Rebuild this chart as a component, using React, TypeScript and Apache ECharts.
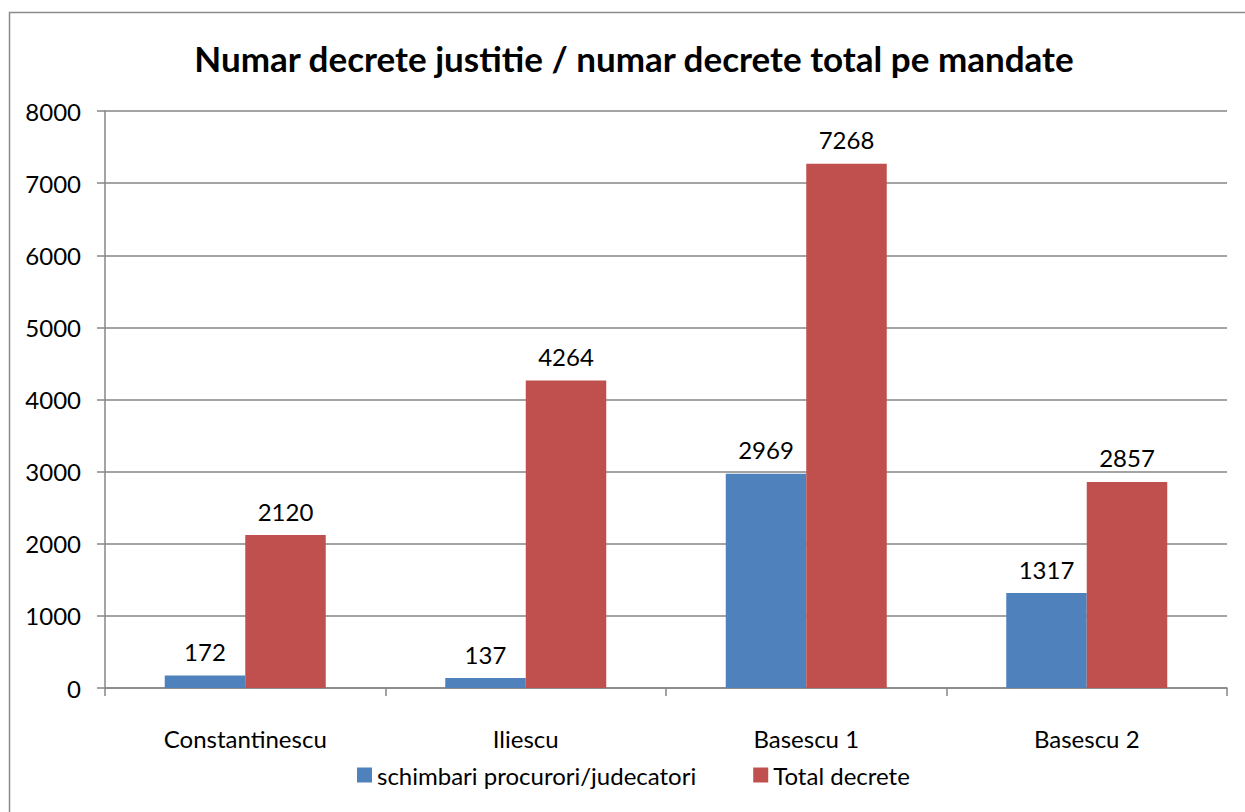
import React, { useEffect, useRef } from "react";
import * as echarts from "echarts";

const categories = ["Constantinescu", "Iliescu", "Basescu 1", "Basescu 2"];
const schimbari = [172, 137, 2969, 1317];
const totalDecrete = [2120, 4264, 7268, 2857];
const seriesNames = ["schimbari procurori/judecatori", "Total decrete"];
const titleText = "Numar decrete justitie / numar decrete total pe mandate";

const FONT = "Lato, 'Open Sans', sans-serif";
const FS = 24;

export default function App() {
  const ref = useRef<HTMLDivElement>(null);
  useEffect(() => {
    if (!ref.current) return;
    const chart = echarts.init(ref.current, undefined, { renderer: "svg" });
    chart.setOption({
      animation: false,
      backgroundColor: "#ffffff",
      textStyle: { fontFamily: FONT },
      graphic: [
        {
          type: "rect",
          shape: { x: 9.5, y: 12.5, width: 1300, height: 900 },
          style: { fill: "none", stroke: "#8a8a8a", lineWidth: 1.5 },
          silent: true,
          z: -10,
        },
        {
          type: "text",
          x: 634,
          y: 58,
          style: {
            text: titleText,
            font: `bold 35px ${FONT}`,
            fill: "#000",
            align: "center",
            verticalAlign: "middle",
          },
        },
      ],
      legend: {
        bottom: 20,
        left: 352,
        itemWidth: 15,
        itemHeight: 15,
        itemGap: 57,
        icon: "rect",
        textStyle: { fontSize: FS, color: "#000", fontFamily: FONT },
        data: seriesNames,
      },
      grid: { left: 105, top: 111, width: 1122, height: 577, containLabel: false },
      xAxis: {
        type: "category",
        data: categories,
        axisLine: { lineStyle: { color: "#868686", width: 1.5 } },
        axisTick: { show: true, length: 8, lineStyle: { color: "#868686", width: 1.5 } },
        axisLabel: { fontSize: FS, color: "#000", margin: 38, fontFamily: FONT },
      },
      yAxis: {
        type: "value",
        min: 0,
        max: 8000,
        interval: 1000,
        axisLine: { show: true, lineStyle: { color: "#868686", width: 1.5 } },
        axisTick: { show: true, length: 8, lineStyle: { color: "#868686", width: 1.5 } },
        axisLabel: {
          fontSize: FS,
          color: "#000",
          margin: 24,
          fontFamily: FONT,
          formatter: (v: number) => String(v),
        },
        splitLine: { lineStyle: { color: "#868686", width: 1.5 } },
      },
      series: [
        {
          name: seriesNames[0],
          type: "bar",
          data: schimbari,
          itemStyle: { color: "#4F81BD" },
          barGap: "0%",
          barCategoryGap: "42.6%",
          label: { show: true, position: "top", distance: 12, fontSize: FS, color: "#000", fontFamily: FONT },
        },
        {
          name: seriesNames[1],
          type: "bar",
          data: totalDecrete,
          itemStyle: { color: "#C0504D" },
          barGap: "0%",
          barCategoryGap: "42.6%",
          label: { show: true, position: "top", distance: 12, fontSize: FS, color: "#000", fontFamily: FONT },
        },
      ],
    });
    return () => chart.dispose();
  }, []);
  return (
    <div
      ref={ref}
      style={{ position: "absolute", left: 0, top: 0, width: 1245, height: 812 }}
    />
  );
}
